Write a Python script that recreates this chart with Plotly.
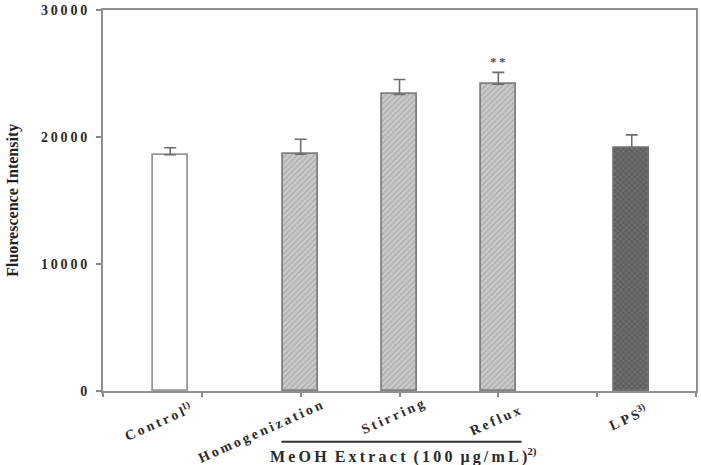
import plotly.graph_objects as go

# ---- data ----
categories = ["Control", "Homogenization", "Stirring", "Reflux", "LPS"]
category_notes = ["1)", "", "", "", "3)"]
bar_positions = [0.68, 2.0, 3.0, 4.0, 5.35]
values = [18600, 18650, 23350, 24150, 19150]
errors = [550, 1170, 1180, 940, 1020]
y_ticks = [0, 10000, 20000, 30000]
significance = ["", "", "", "**", ""]
group_label = "MeOH Extract (100 μg/mL)"
group_note = "2)"
y_title = "Fluorescence Intensity"

THIN = "\u2009"
FONT = "Liberation Serif"


def spaced(s, gap=THIN):
    return gap.join(list(s))


fig = go.Figure()

fills = ["white", "#cbcbcb", "#cbcbcb", "#cbcbcb", "#5e5e5e"]
shapes = ["", "/", "/", "/", "x"]
fgs = ["white", "#8a8a8a", "#8a8a8a", "#8a8a8a", "#9a9a9a"]
lines = ["#9a9a9a", "#808080", "#808080", "#808080", "#707070"]

for i, cat in enumerate(categories):
    fig.add_trace(go.Bar(
        x=[bar_positions[i]], y=[values[i]], width=0.355,
        marker=dict(color=fills[i], line=dict(color=lines[i], width=1.8),
                    pattern=dict(shape=shapes[i], fgcolor=fgs[i], bgcolor=fills[i],
                                 size=4, solidity=0.35)),
        error_y=dict(type="data", symmetric=False, array=[errors[i]], arrayminus=[0],
                     color="#6e6e6e", thickness=1.6, width=6),
        showlegend=False, name=cat,
    ))

# x category labels (rotated)
label_shifts = [(-12, -30), (-40, -40), (-7, -25), (-3, -29), (-4, -26)]
for i, cat in enumerate(categories):
    txt = "<b>" + spaced(cat) + (f"<sup>{category_notes[i]}</sup>" if category_notes[i] else "") + "</b>"
    dx, dy = label_shifts[i]
    fig.add_annotation(x=bar_positions[i], y=0, xref="x", yref="y", text=txt,
                       showarrow=False, textangle=-24, xshift=dx, yshift=dy,
                       xanchor="center", yanchor="middle",
                       font=dict(family=FONT, size=14, color="#2a2a2a"))

# significance marks
for i, s in enumerate(significance):
    if s:
        fig.add_annotation(x=bar_positions[i], y=values[i] + errors[i], xref="x", yref="y",
                           text="<b>" + spaced(s) + "</b>", showarrow=False,
                           yshift=11, yanchor="middle",
                           font=dict(family=FONT, size=13, color="#555555"))

# group underline + label
fig.add_shape(type="line", xref="paper", yref="paper",
              x0=(282 - 103) / 595, x1=(523 - 103) / 595,
              y0=-(442 - 391) / 382, y1=-(442 - 391) / 382,
              line=dict(color="#333333", width=2))
grp = "<b>" + spaced(group_label).replace(THIN + " " + THIN, "  ") + f"<sup>{group_note}</sup></b>"
fig.add_annotation(x=(405 - 103) / 595, y=-(456 - 391) / 382, xref="paper", yref="paper",
                   text=grp, showarrow=False, xanchor="center", yanchor="middle",
                   font=dict(family=FONT, size=16, color="#2a2a2a"))

# y title
fig.add_annotation(x=(12 - 103) / 595, y=(391 - 200) / 382, xref="paper", yref="paper",
                   text="<b>" + y_title + "</b>", showarrow=False, textangle=-90,
                   xanchor="center", yanchor="middle",
                   font=dict(family=FONT, size=16, color="#222222"))

fig.update_layout(
    width=701, height=465,
    margin=dict(l=103, r=3, t=9, b=74),
    paper_bgcolor="white", plot_bgcolor="white",
    bargap=0,
    xaxis=dict(range=[0, 6], tickvals=[0, 1, 2, 3, 4, 5, 6], showticklabels=False,
               ticks="outside", ticklen=4, tickwidth=1.5, tickcolor="#888888",
               showline=True, linecolor="#909090", linewidth=2, mirror=True,
               showgrid=False, zeroline=False, fixedrange=True),
    yaxis=dict(range=[0, 30000], tickvals=y_ticks,
               ticktext=[spaced(str(v)) for v in y_ticks],
               ticks="outside", ticklen=5, tickwidth=1.5, tickcolor="#888888",
               ticklabelstandoff=6,
               tickfont=dict(family=FONT, size=14, color="#2a2a2a", weight="bold"),
               showline=True, linecolor="#909090", linewidth=2, mirror=True,
               showgrid=False, zeroline=False, fixedrange=True),
)

fig.write_html("out.html")
